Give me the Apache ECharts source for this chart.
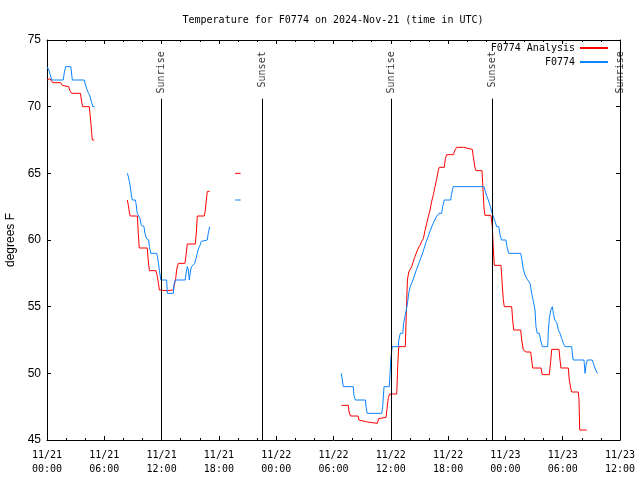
<!DOCTYPE html>
<html>
<head>
<meta charset="utf-8">
<script src="https://cdn.jsdelivr.net/npm/echarts@6/dist/echarts.min.js"></script>
<style>html,body{margin:0;padding:0;background:#fff}#c{width:640px;height:480px}</style>
</head>
<body>
<div id="c"></div>
<script>
// ---- data (hours since 2024-11-21 00:00 UTC, temperature in degrees F); null breaks a line ----
const analysisHours = [
  0.0,0.3,0.45,0.6,1.43,1.6,1.7,2.27,2.4,2.58,3.5,3.6,3.73,4.43,4.5,4.6,4.68,4.75,4.95,
  6,
  8.41,8.52,8.62,8.72,9.46,9.56,9.66,10.5,10.6,10.72,11.41,11.56,11.67,11.77,11.87,12.6,12.68,13.23,13.33,13.47,13.61,13.75,14.45,14.55,14.69,15.53,15.64,15.74,16.47,16.58,16.68,16.79,17.03,
  18,
  19.69,20.28,
  25,
  30.82,31.55,31.63,31.78,32.57,32.67,32.81,33.54,33.64,34.59,34.73,34.87,35.5,35.6,35.75,35.89,36.62,36.72,36.83,37.52,37.6,37.74,37.88,38.08,38.19,38.36,38.53,38.71,38.88,39.06,39.23,39.41,39.58,39.76,39.93,40.11,40.28,40.46,40.63,40.81,40.98,41.08,41.6,41.71,41.85,42.55,42.72,42.9,43.6,43.67,44.53,44.64,44.82,44.92,45.55,45.62,45.76,45.86,46.49,46.63,46.73,46.84,47.54,47.62,47.77,47.88,48.66,48.76,48.87,49.6,49.71,49.88,50.05,50.16,50.65,50.75,50.86,51.73,51.86,52.6,52.74,52.85,53.61,53.72,53.82,54.59,54.69,54.84,54.94,55.63,55.71,55.78,56.51
];
const analysisTemps = [
  72.0,72.1,72.0,71.8,71.8,71.6,71.5,71.5,71.2,71.0,71.0,70.5,70.0,70.0,69.5,68.75,68.0,67.5,67.5,
  null,
  63.0,62.6,62.1,61.8,61.8,60.5,59.4,59.4,58.5,57.7,57.7,57.25,56.75,56.25,56.2,56.2,56.25,56.25,56.6,57.1,57.9,58.25,58.25,58.8,59.7,59.7,60.6,61.8,61.8,62.25,63.0,63.65,63.65,
  null,
  65.0,65.0,
  null,
  47.6,47.6,47.1,46.8,46.8,46.5,46.35,46.35,46.25,46.25,46.6,46.7,46.7,47.3,48.2,48.45,48.45,50.5,52.0,52.0,54.0,57.0,57.6,57.6,58.0,58.4,58.75,59.1,59.4,59.6,59.9,60.1,60.7,61.25,61.75,62.25,62.9,63.4,64.0,64.6,65.25,65.45,65.45,66.1,66.4,66.4,66.75,66.95,66.95,66.8,66.8,66.25,65.4,65.2,65.2,64.25,62.4,61.85,61.85,61.0,59.4,58.1,58.1,57.2,55.6,55.0,55.0,54.0,53.25,53.25,52.5,51.75,51.75,51.6,51.6,51.0,50.4,50.4,49.9,49.9,50.9,51.8,51.8,51.0,50.4,50.4,49.5,48.9,48.6,48.6,48.0,45.75,45.75
];
const obsHours = [
  0.0,0.2,0.3,0.5,1.7,1.8,1.95,2.5,2.65,3.9,4.0,4.15,4.35,4.5,4.6,4.7,4.8,5.0,
  6,
  8.41,8.52,8.62,8.72,8.83,8.93,9.25,9.32,9.45,9.63,9.74,9.88,9.95,10.16,10.23,10.33,10.43,10.65,10.72,10.87,11.49,11.56,11.67,11.77,11.92,12.53,12.6,13.23,13.3,13.44,14.48,14.58,14.69,14.8,14.9,15.04,15.14,15.32,15.46,15.6,15.74,15.88,16.02,16.16,16.26,16.79,16.86,16.96,17.03,
  18,
  19.69,20.28,
  25,
  30.82,30.92,31.03,32.07,32.15,32.29,33.33,33.43,33.53,35.05,35.15,35.29,35.84,35.92,36.02,36.15,36.79,36.84,36.99,37.25,37.34,37.48,37.63,37.77,37.9,38.04,38.32,38.67,39.02,39.37,39.72,40.08,40.43,40.78,41.05,41.33,41.43,41.6,42.27,42.35,42.53,45.76,45.86,46.04,46.21,46.39,46.57,46.73,46.91,47.09,47.3,47.44,47.59,48.06,48.16,48.34,49.6,49.71,49.88,50.05,50.23,50.4,50.58,50.75,50.93,51.1,51.2,51.34,51.55,51.69,51.86,52.43,52.5,52.6,52.75,52.92,53.02,53.17,53.38,53.54,53.72,53.9,54.07,54.24,54.94,55.04,55.11,56.23,56.34,56.44,56.58,57.1,57.21,57.38,57.62
];
const obsTemps = [
  73.0,72.75,72.5,72.0,72.0,72.5,73.0,73.0,72.0,72.0,71.7,71.35,71.0,70.8,70.5,70.25,70.0,70.0,
  null,
  65.0,64.75,64.4,64.0,63.4,63.0,63.0,62.75,62.0,62.0,61.6,61.1,61.0,61.0,60.6,60.3,60.1,60.0,59.5,59.0,59.0,58.75,58.3,57.7,57.0,57.0,56.0,56.0,56.7,57.0,57.0,57.6,58.0,57.75,57.0,57.75,58.0,58.1,58.25,58.6,59.0,59.4,59.6,59.9,60.0,60.0,60.4,60.75,61.0,
  null,
  63.0,63.0,
  null,
  50.0,49.5,49.0,49.0,48.3,48.0,48.0,47.4,47.0,47.0,47.5,49.0,49.0,50.0,51.25,52.0,52.0,52.5,53.0,53.0,53.75,54.25,54.75,55.4,56.1,56.5,57.0,57.75,58.4,59.1,59.9,60.6,61.25,61.75,62.0,62.0,62.5,63.0,63.0,63.4,64.0,64.0,63.75,63.3,63.0,62.6,62.1,62.0,61.4,61.0,61.0,60.4,60.0,60.0,59.5,59.0,59.0,58.6,57.8,57.4,57.1,57.0,56.75,56.0,55.4,54.75,53.5,53.0,53.0,52.5,52.0,52.0,53.25,54.1,54.75,55.0,54.5,54.0,53.8,53.25,53.0,52.6,52.25,52.0,52.0,51.3,51.0,51.0,50.0,50.6,51.0,51.0,50.75,50.4,50.0
];
const sunHours = [11.97, 22.57, 36.05, 46.65, 60.0];
const sunLabels = ['Sunrise', 'Sunset', 'Sunrise', 'Sunset', 'Sunrise'];
const xTickLabels = ['11/21\n00:00','11/21\n06:00','11/21\n12:00','11/21\n18:00','11/22\n00:00','11/22\n06:00','11/22\n12:00','11/22\n18:00','11/23\n00:00','11/23\n06:00','11/23\n12:00'];
const yMin = 45, yMax = 75, yStep = 5;

// ---- chart ----
const MONO = 'DejaVu Sans Mono';
const SANS = 'Liberation Sans';
const pair = (hs, ts) => hs.map((h, i) => [h, ts[i] === null ? '-' : ts[i]]);

const chart = echarts.init(document.getElementById('c'), null, {renderer: 'canvas'});
const xCommon = {
  type: 'value', min: 0, max: 60, interval: 6,
  axisLine: {show: true, onZero: false, lineStyle: {color: '#000', width: 1}},
  axisTick: {show: true, inside: true, length: 4, lineStyle: {color: '#000'}},
  minorTick: {show: true, splitNumber: 3, length: 2, lineStyle: {color: '#000'}},
  splitLine: {show: false}, minorSplitLine: {show: false}
};
const yCommon = {
  type: 'value', min: yMin, max: yMax, interval: yStep,
  axisLine: {show: true, onZero: false, lineStyle: {color: '#000', width: 1}},
  axisTick: {show: true, inside: true, length: 4, lineStyle: {color: '#000'}},
  splitLine: {show: false}
};
chart.setOption({
  animation: false,
  backgroundColor: '#fff',
  title: {
    text: 'Temperature for F0774 on 2024-Nov-21 (time in UTC)',
    left: 328, textAlign: 'center', top: 10,
    textStyle: {fontFamily: MONO, fontSize: 10, fontWeight: 'normal', color: '#000'}
  },
  grid: {left: 47, right: 20, top: 40, bottom: 40, containLabel: false, outerBoundsMode: 'none'},
  legend: {
    data: ['F0774 Analysis', 'F0774'],
    orient: 'vertical', right: 26, top: 38, align: 'right',
    itemWidth: 28, itemHeight: 10, itemGap: 4,
    itemStyle: {opacity: 0},
    textStyle: {fontFamily: MONO, fontSize: 10, color: '#000'}
  },
  xAxis: [
    Object.assign({}, xCommon, {
      position: 'bottom',
      axisLabel: {show: true, fontFamily: MONO, fontSize: 10, color: '#000', lineHeight: 14, margin: 8,
        showMinLabel: true, showMaxLabel: true,
        formatter: v => xTickLabels[Math.round(v / 6)]}
    }),
    Object.assign({}, xCommon, {position: 'top', axisLabel: {show: false}})
  ],
  yAxis: [
    Object.assign({}, yCommon, {
      position: 'left',
      name: 'degrees F', nameLocation: 'middle', nameGap: 30, nameRotate: 90,
      nameTextStyle: {fontFamily: SANS, fontSize: 12, color: '#000'},
      axisLabel: {show: true, fontFamily: SANS, fontSize: 12, color: '#000', margin: 6}
    }),
    Object.assign({}, yCommon, {position: 'right', axisLabel: {show: false}})
  ],
  series: [
    {
      name: 'F0774 Analysis', type: 'line', xAxisIndex: 0, yAxisIndex: 0,
      data: pair(analysisHours, analysisTemps),
      symbol: 'none', connectNulls: false,
      lineStyle: {color: '#ff0000', width: 1}, itemStyle: {color: '#ff0000'}, z: 3
    },
    {
      name: 'F0774', type: 'line', xAxisIndex: 0, yAxisIndex: 0,
      data: pair(obsHours, obsTemps),
      symbol: 'none', connectNulls: false,
      lineStyle: {color: '#0a84ff', width: 1}, itemStyle: {color: '#0a84ff'}, z: 3
    },
    {
      name: 'sun', type: 'line', data: [], symbol: 'none',
      markLine: {
        silent: true, symbol: ['none', 'none'], animation: false,
        label: {show: false},
        lineStyle: {color: '#000', width: 1, type: 'solid'},
        data: sunHours.map(h => [{coord: [h, yMin]}, {coord: [h, 70.6]}])
      }
    },
    {
      name: 'sunLabel', type: 'scatter', symbolSize: 0, silent: true,
      data: sunHours.map((h, i) => ({value: [h, 74.15], name: sunLabels[i]})),
      label: {
        show: true, formatter: '{b}', rotate: 90, position: 'inside',
        align: 'right', verticalAlign: 'middle',
        fontFamily: MONO, fontSize: 10, color: '#000'
      },
      z: 4
    }
  ]
});
</script>
</body>
</html>
